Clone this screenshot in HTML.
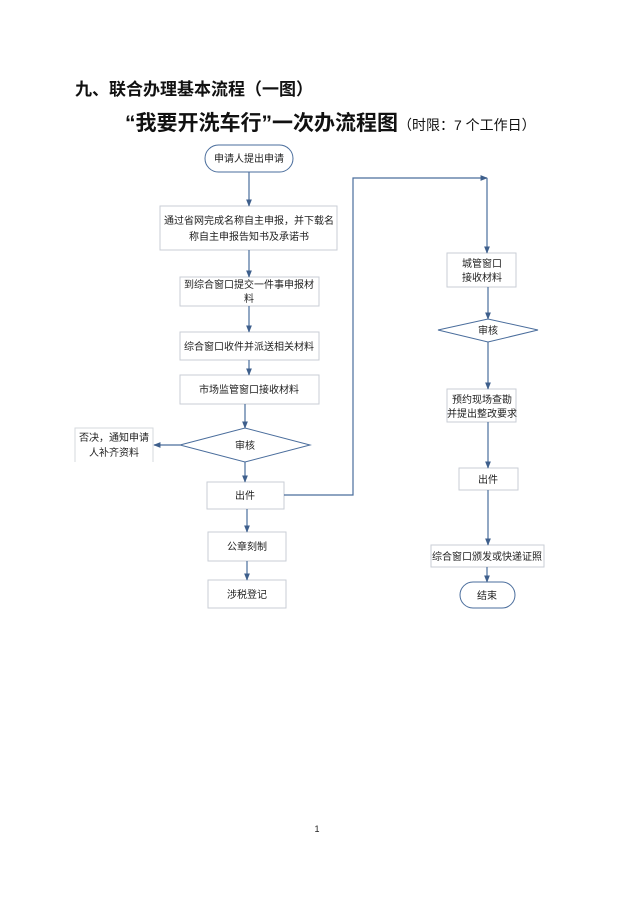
<!DOCTYPE html>
<html><head><meta charset="utf-8"><style>
html,body{margin:0;padding:0;background:#fff;}
svg{display:block;}
text{font-family:"Liberation Sans","Noto Sans CJK SC",sans-serif;fill:#222;}
</style></head><body>
<svg width="634" height="898" viewBox="0 0 634 898" xmlns="http://www.w3.org/2000/svg">
<defs>
<marker id="a" viewBox="0 0 10 10" refX="9" refY="5" markerWidth="6" markerHeight="6" orient="auto"><path d="M0,1 L10,5 L0,9 z" fill="#3e5f8c"/></marker>
</defs>
<text x="75" y="95" font-size="17" font-weight="bold" style="fill:#111">九、联合办理基本流程（一图）</text>
<text x="125" y="130" font-size="21" font-weight="bold" style="fill:#111">“我要开洗车行”一次办流程图<tspan font-size="14" font-weight="normal">（时限：7 个工作日）</tspan></text>

<g fill="#fff" stroke="#c9ced6" stroke-width="1">
<rect x="160" y="206" width="177" height="44"/>
<rect x="180" y="277" width="139" height="29"/>
<rect x="180" y="332" width="139" height="28"/>
<rect x="180" y="375" width="139" height="29"/>
<rect x="207" y="482" width="77" height="27"/>
<rect x="208" y="532" width="78" height="29"/>
<rect x="208" y="580" width="78" height="28"/>
<rect x="447" y="253" width="69" height="34"/>
<rect x="447" y="389" width="69" height="33"/>
<rect x="459" y="468" width="59" height="22"/>
<rect x="431" y="545" width="113" height="22"/>
</g>
<path d="M75,462 V428 H153 V462" fill="none" stroke="#d5d9de"/>
<g fill="#fff" stroke="#4a6d9c" stroke-width="1">
<rect x="205" y="145" width="88" height="27" rx="13.5"/>
<rect x="460" y="582" width="55" height="26" rx="13"/>
<polygon points="180,445 245,428 310,445 245,462"/>
<polygon points="438,330 488,319 538,330 488,342"/>
</g>
<g stroke="#4a6d9c" stroke-width="1.2" fill="none" marker-end="url(#a)">
<line x1="249" y1="172" x2="249" y2="206"/>
<line x1="249" y1="250" x2="249" y2="277"/>
<line x1="249" y1="306" x2="249" y2="332"/>
<line x1="249" y1="360" x2="249" y2="375"/>
<line x1="245" y1="404" x2="245" y2="428"/>
<line x1="245" y1="462" x2="245" y2="482"/>
<line x1="180" y1="445" x2="154" y2="445"/>
<line x1="247" y1="509" x2="247" y2="532"/>
<line x1="247" y1="561" x2="247" y2="580"/>
<polyline points="284,495 353,495 353,178 487,178"/>
<line x1="487" y1="178" x2="487" y2="253"/>
<line x1="488" y1="287" x2="488" y2="319"/>
<line x1="488" y1="342" x2="488" y2="389"/>
<line x1="488" y1="422" x2="488" y2="468"/>
<line x1="488" y1="490" x2="488" y2="545"/>
<line x1="487" y1="567" x2="487" y2="582"/>
</g>
<g font-size="10" text-anchor="middle">
<text x="249" y="162">申请人提出申请</text>
<text x="249" y="224">通过省网完成名称自主申报，并下载名</text>
<text x="249" y="240">称自主申报告知书及承诺书</text>
<text x="249" y="288">到综合窗口提交一件事申报材</text>
<text x="249" y="302">料</text>
<text x="249" y="350">综合窗口收件并派送相关材料</text>
<text x="249" y="393">市场监管窗口接收材料</text>
<text x="245" y="449">审核</text>
<text x="114" y="441">否决，通知申请</text>
<text x="114" y="456">人补齐资料</text>
<text x="245" y="499">出件</text>
<text x="247" y="550">公章刻制</text>
<text x="247" y="598">涉税登记</text>
<text x="482" y="267">城管窗口</text>
<text x="482" y="281">接收材料</text>
<text x="488" y="334">审核</text>
<text x="482" y="403">预约现场查勘</text>
<text x="482" y="417">并提出整改要求</text>
<text x="488" y="483">出件</text>
<text x="487" y="560">综合窗口颁发或快递证照</text>
<text x="487" y="599">结束</text>
<text x="317" y="832" font-size="9">1</text>
</g>
</svg>
</body></html>
